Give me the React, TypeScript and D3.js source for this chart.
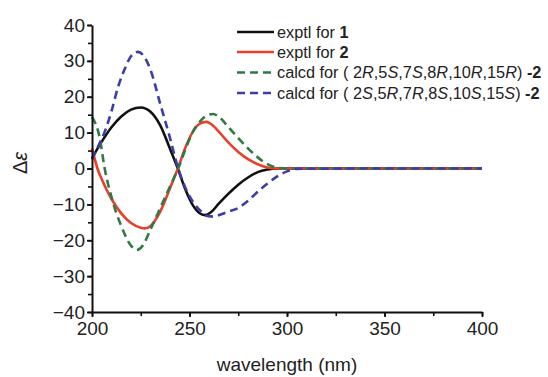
import React, { useRef, useEffect } from 'react';
import * as d3 from 'd3';

// exptl for 1
const wl1 = [200, 205, 210, 215, 220, 225, 230, 235, 240, 244, 248, 252, 255, 258, 261, 265, 270, 275, 280, 285, 290, 295, 350, 400];
const de1 = [2.9, 7.5, 11.5, 14.5, 16.4, 17, 15.8, 12, 5.5, 0, -6, -10.5, -12.4, -13, -12.2, -9.8, -7, -4.5, -2.5, -1, -0.3, 0, 0, 0];

// exptl for 2
const wl2 = [200, 202.8, 205, 210, 215, 220, 225, 227, 230, 235, 240, 244, 248, 252, 255, 258.5, 262, 265, 270, 275, 280, 285, 290, 295, 350, 400];
const de2 = [5.6, 0, -3, -8.5, -12.5, -15.2, -16.5, -16.7, -16, -12, -5.5, 0, 6, 10.5, 12.4, 13, 12, 10.3, 7.2, 4.6, 2.6, 1.2, 0.3, 0, 0, 0];

// calcd (2R,5S,7S,8R,10R,15R)-2
const wl3 = [200, 204, 206.5, 210, 215, 220, 223, 226, 230, 235, 240, 244.2, 248, 252, 256, 260, 262, 265, 270, 275, 280, 285, 290, 295, 300, 350, 400];
const de3 = [14.4, 8.4, 0, -8, -16, -21.5, -22.7, -21.5, -17, -11, -5, 0, 5.5, 10.5, 13.5, 15, 15.2, 14.5, 11.5, 8.5, 5.6, 3.1, 1.2, 0.2, 0, 0, 0];

// calcd (2S,5R,7R,8S,10S,15S)-2
const wl4 = [200, 203, 206.5, 210, 213.4, 217, 220, 223.5, 227, 230, 235, 240, 244.2, 248, 252, 256, 259, 262.5, 266, 270, 275, 280, 286, 290, 295, 300, 305, 350, 400];
const de4 = [2.5, 6, 10.2, 16, 22.8, 28, 31.3, 32.5, 31, 27.5, 18, 8.5, 0, -5.5, -9.5, -12, -13.2, -13.4, -12.8, -12, -11, -9, -6, -4.2, -2.2, -0.8, -0.1, 0, 0];

const xTicks = [200, 250, 300, 350, 400];
const yTicks = [-40, -30, -20, -10, 0, 10, 20, 30, 40];

const series = [
  { wl: wl1, de: de1, color: '#111111', dash: null },
  { wl: wl2, de: de2, color: '#e8402a', dash: null },
  { wl: wl3, de: de3, color: '#2f7a45', dash: '8,5' },
  { wl: wl4, de: de4, color: '#3c3caa', dash: '8,5' },
];

const Chart: React.FC = () => {
  const svgRef = useRef<SVGSVGElement | null>(null);

  const width = 548;
  const height = 377;
  const marginLeft = 92;
  const marginRight = 66;
  const marginTop = 25;
  const marginBottom = 65;

  useEffect(() => {
    if (!svgRef.current) return;
    const svg = d3.select(svgRef.current);
    svg.selectAll('*').remove();

    const x = d3.scaleLinear().domain([200, 400]).range([marginLeft, width - marginRight]);
    const y = d3.scaleLinear().domain([-40, 40]).range([height - marginBottom, marginTop]);

    const font = '"Liberation Sans", Arial, sans-serif';

    // curves
    series.forEach(s => {
      const pts = s.wl.map((w, i) => [w, s.de[i]] as [number, number]);
      const line = d3.line<[number, number]>()
        .x(d => x(d[0]))
        .y(d => y(d[1]))
        .curve(d3.curveMonotoneX);
      const p = svg.append('path')
        .datum(pts)
        .attr('fill', 'none')
        .attr('stroke', s.color)
        .attr('stroke-width', 2.6)
        .attr('d', line);
      if (s.dash) p.attr('stroke-dasharray', s.dash);
    });

    // minor ticks
    svg.append('g')
      .attr('transform', `translate(0,${height - marginBottom})`)
      .call(d3.axisBottom(x).tickValues(d3.range(200, 401, 25)).tickSize(4).tickFormat(() => ''))
      .call(g => g.select('.domain').remove())
      .call(g => g.selectAll('line').attr('stroke', '#111').attr('stroke-width', 1.6));
    svg.append('g')
      .attr('transform', `translate(${marginLeft},0)`)
      .call(d3.axisLeft(y).tickValues(d3.range(-40, 41, 5)).tickSize(4).tickFormat(() => ''))
      .call(g => g.select('.domain').remove())
      .call(g => g.selectAll('line').attr('stroke', '#111').attr('stroke-width', 1.6));

    // x axis
    svg.append('g')
      .attr('transform', `translate(0,${height - marginBottom})`)
      .call(d3.axisBottom(x).tickValues(xTicks).tickSize(5).tickSizeOuter(0).tickPadding(5))
      .call(g => g.select('.domain').attr('stroke', '#111').attr('stroke-width', 2))
      .call(g => g.selectAll('line').attr('stroke', '#111').attr('stroke-width', 1.8))
      .call(g => g.selectAll('text')
        .attr('font-family', font).attr('font-size', 19).attr('fill', '#222'));

    // y axis
    svg.append('g')
      .attr('transform', `translate(${marginLeft},0)`)
      .call(d3.axisLeft(y).tickValues(yTicks).tickSize(5).tickSizeOuter(0).tickPadding(2))
      .call(g => g.select('.domain').attr('stroke', '#111').attr('stroke-width', 2))
      .call(g => g.selectAll('line').attr('stroke', '#111').attr('stroke-width', 1.8))
      .call(g => g.selectAll('text')
        .attr('font-family', font).attr('font-size', 19).attr('fill', '#222'));

    // axis titles
    svg.append('text')
      .attr('x', (marginLeft + width - marginRight) / 2)
      .attr('y', 371)
      .attr('text-anchor', 'middle')
      .attr('font-family', font)
      .attr('font-size', 19)
      .attr('fill', '#222')
      .text('wavelength (nm)');

    const yt = svg.append('text')
      .attr('transform', 'translate(27,163) rotate(-90)')
      .attr('text-anchor', 'middle')
      .attr('font-family', font)
      .attr('font-size', 20)
      .attr('fill', '#222');
    yt.append('tspan').text('Δ');
    yt.append('tspan').attr('font-style', 'italic').text('ε');

    // legend
    const legendRows = [
      [['exptl for ', ''], ['1', 'b']],
      [['exptl for ', ''], ['2', 'b']],
      [['calcd for ( 2', ''], ['R', 'i'], [',5', ''], ['S', 'i'], [',7', ''], ['S', 'i'], [',8', ''], ['R', 'i'], [',10', ''], ['R', 'i'], [',15', ''], ['R', 'i'], [') ', ''], ['-2', 'b']],
      [['calcd for ( 2', ''], ['S', 'i'], [',5', ''], ['R', 'i'], [',7', ''], ['R', 'i'], [',8', ''], ['S', 'i'], [',10', ''], ['S', 'i'], [',15', ''], ['S', 'i'], [') ', ''], ['-2', 'b']],
    ];
    const rowY = [32, 52, 72.5, 93];
    legendRows.forEach((parts, i) => {
      const s = series[i];
      const l = svg.append('line')
        .attr('x1', 237).attr('x2', 274)
        .attr('y1', rowY[i]).attr('y2', rowY[i])
        .attr('stroke', s.color)
        .attr('stroke-width', 2.6);
      if (s.dash) l.attr('stroke-dasharray', s.dash);
      const t = svg.append('text')
        .attr('x', 277)
        .attr('y', rowY[i] + 5.5)
        .attr('font-family', font)
        .attr('font-size', 16.3)
        .attr('fill', '#222');
      parts.forEach(([str, st]) => {
        const sp = t.append('tspan').text(str);
        if (st === 'b') sp.attr('font-weight', 'bold');
        if (st === 'i') sp.attr('font-style', 'italic');
      });
    });
  }, [svgRef]);

  return (
    <svg
      ref={svgRef}
      width={width}
      height={height}
      style={{ position: 'absolute', left: 0, top: 0, background: '#fff' }}
    />
  );
};

export default function App() {
  return <Chart />;
}
